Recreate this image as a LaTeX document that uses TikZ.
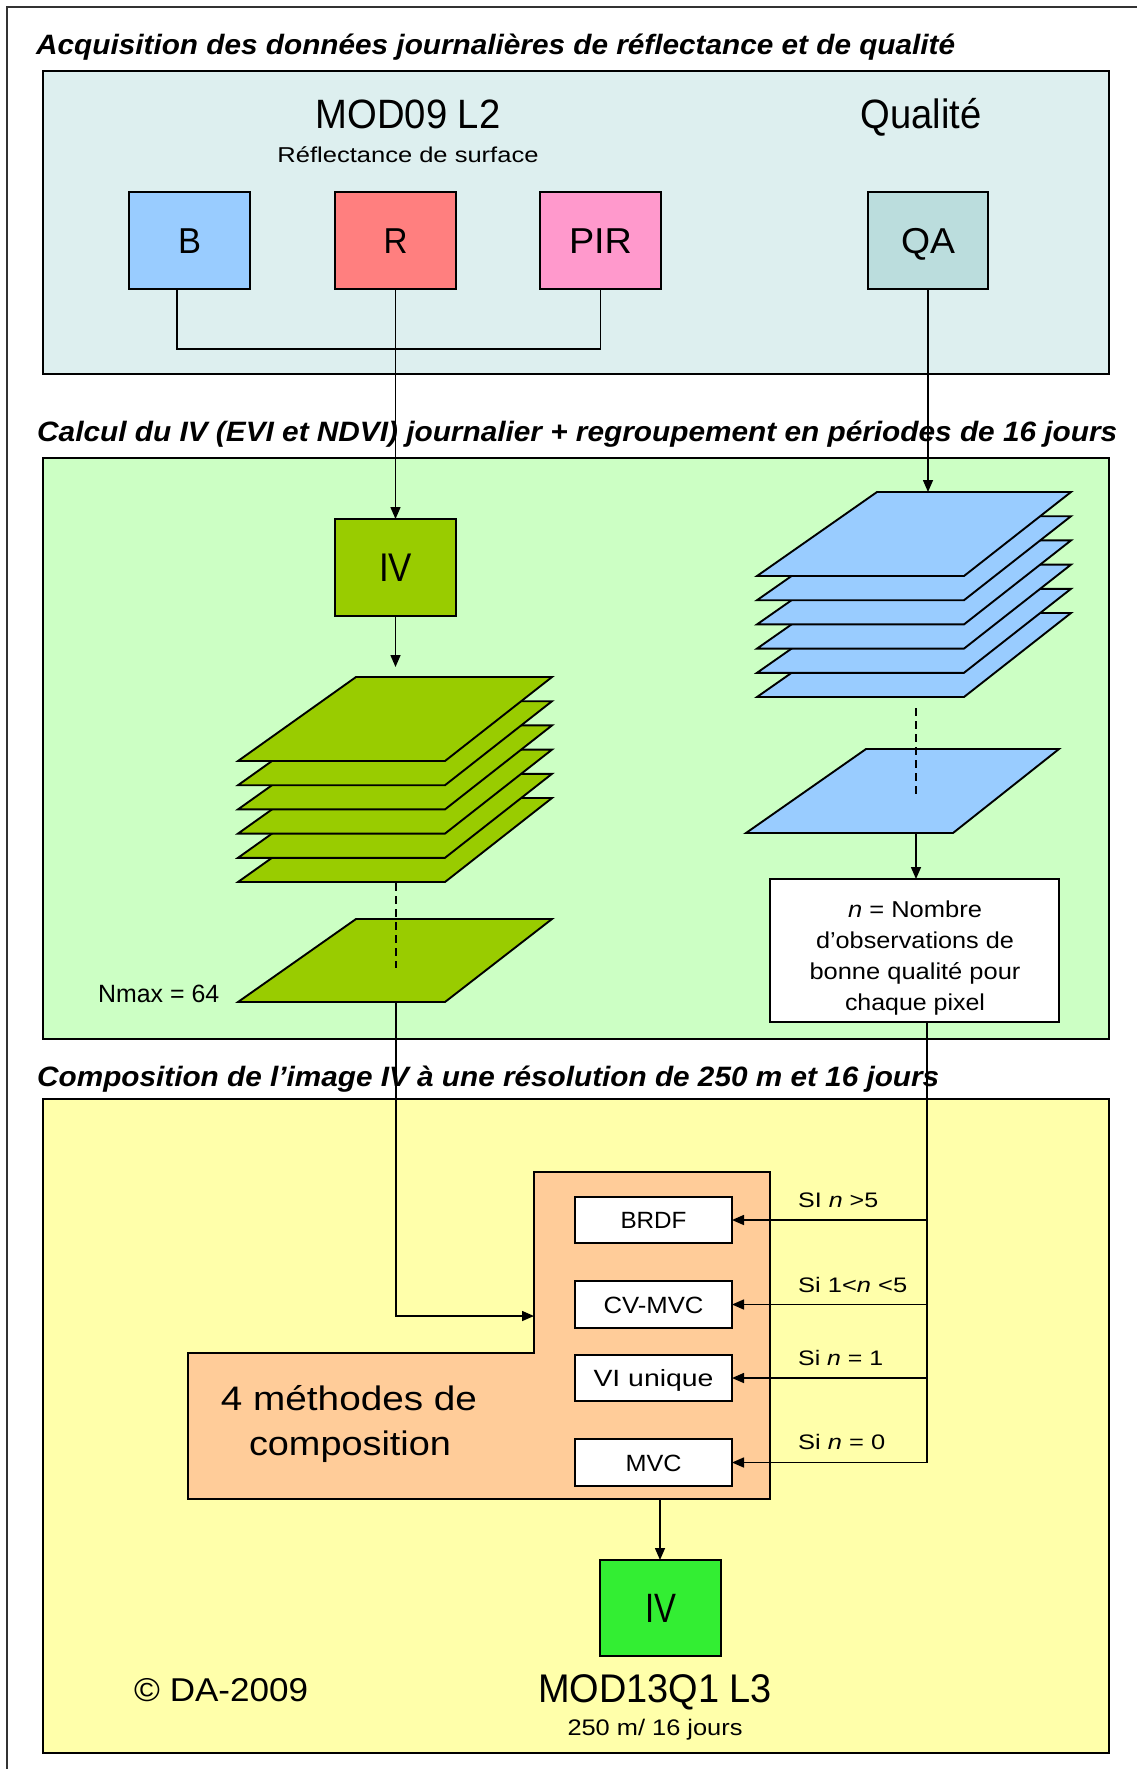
\documentclass[tikz,border=0pt]{standalone}
\usepackage{fontspec}
\setmainfont{Liberation Sans}
\usepackage{graphicx}
\usetikzlibrary{arrows.meta}
\definecolor{bgcyan}{HTML}{DDEFEF}
\definecolor{bggreen}{HTML}{CCFFC4}
\definecolor{bgyellow}{HTML}{FFFFAA}
\definecolor{cB}{HTML}{99CCFF}
\definecolor{cR}{HTML}{FF7F7F}
\definecolor{cPIR}{HTML}{FF99CC}
\definecolor{cQA}{HTML}{BBDDDD}
\definecolor{cOlive}{HTML}{99CC00}
\definecolor{cOrange}{HTML}{FFCC99}
\definecolor{cIV}{HTML}{33EE33}
\newcommand\fz[1]{\fontsize{#1}{#1}\selectfont}
\newcommand\fw[2]{\resizebox{#1pt}{\height}{#2}}
\begin{document}
\begin{tikzpicture}[x=1pt,y=-1pt,
  secbox/.style={draw=black, line width=2pt, inner sep=0pt, outer sep=0pt, anchor=north west},
  cbox/.style={draw=black, line width=1.8pt, inner sep=0pt, outer sep=0pt, anchor=north west},
  bandbox/.style={cbox, minimum width=121pt, minimum height=97pt, font=\fz{36}, text height=26pt, text depth=0pt},
  mbox/.style={cbox, fill=white, minimum width=157pt, minimum height=46pt, font=\fz{23.5}, text height=17pt, text depth=0pt},
  ttl/.style={inner sep=0pt, anchor=base west, font=\fz{28}\bfseries\itshape},
  lbl/.style={inner sep=0pt},
  conn/.style={draw=black, line width=1.5pt},
  arr/.style={conn, -{Triangle[length=12pt,width=10pt]}},
  dsh/.style={draw=black, line width=1.6pt, dash pattern=on 8pt off 5pt},
  layerg/.style={draw=black, line width=1.9pt, fill=cOlive},
  layerb/.style={draw=black, line width=1.9pt, fill=cB},
]
\useasboundingbox (0,0) rectangle (1136,1769);
\fill[white] (0,0) rectangle (1136,1769);
\draw[line width=1.5pt, black!80] (7,1775) -- (7,7) -- (1142,7);

% sections
\node[secbox, fill=bgcyan, minimum width=1066pt, minimum height=303pt] (sec1) at (43,71) {};
\node[secbox, fill=bggreen, minimum width=1066pt, minimum height=581pt] (sec2) at (43,458) {};
\node[secbox, fill=bgyellow, minimum width=1066pt, minimum height=654pt] (sec3) at (43,1099) {};

% titles
\node[ttl] (t1) at (36,55) {\fw{919}{Acquisition des données journalières de réflectance et de qualité}};
\node[ttl] (t2) at (37,441) {\fw{1080}{Calcul du IV (EVI et NDVI) journalier + regroupement en périodes de 16 jours}};
\node[ttl] (t3) at (37,1086) {\fw{902}{Composition de l’image IV à une résolution de 250 m et 16 jours}};

% section 1
\node[lbl, anchor=base, font=\fz{41}] (mod09) at (408,128) {\fw{185}{MOD09 L2}};
\node[lbl, anchor=base, font=\fz{21.5}] (refl) at (408,162) {\fw{261}{Réflectance de surface}};
\node[lbl, anchor=base, font=\fz{41}] (qual) at (921,128) {\fw{121}{Qualité}};
\node[bandbox, fill=cB] (B) at (129,192) {\fw{23}{B}};
\node[bandbox, fill=cR] (R) at (335,192) {\fw{24}{R}};
\node[bandbox, fill=cPIR] (PIR) at (540,192) {\fw{63}{PIR}};
\node[bandbox, fill=cQA, minimum width=120pt] (QA) at (868,192) {\fw{54}{QA}};

% section 2
\node[bandbox, fill=cOlive, font=\fz{40}, text height=28.5pt] (IVa) at (335,519) {\fw{33}{IV}};
\foreach \k in {5,4,3,2,1,0}{
  \pgfmathsetmacro\ty{677+24.2*\k}
  \draw[layerg] (356,\ty) -- (552,\ty) -- (445,\ty+84) -- (238,\ty+84) -- cycle;
}
\draw[layerg] (356,919) -- (552,919) -- (445,1002) -- (238,1002) -- cycle;
\foreach \k in {5,4,3,2,1,0}{
  \pgfmathsetmacro\ty{492+24.2*\k}
  \draw[layerb] (877,\ty) -- (1071,\ty) -- (964,\ty+84) -- (757,\ty+84) -- cycle;
}
\draw[layerb] (866,749) -- (1059,749) -- (953,833) -- (746,833) -- cycle;
\node[cbox, fill=white, minimum width=289pt, minimum height=143pt] (nbox) at (770,879) {};
\node[lbl, anchor=base, font=\fz{23}] (n1) at (915,917) {\fw{134}{\textit{n} = Nombre}};
\node[lbl, anchor=base, font=\fz{23}] (n2) at (915,948) {\fw{198}{d'observations de}};
\node[lbl, anchor=base, font=\fz{23}] (n3) at (915,979) {\fw{211}{bonne qualité pour}};
\node[lbl, anchor=base, font=\fz{23}] (n4) at (915,1010) {\fw{140}{chaque pixel}};
\node[lbl, anchor=base west, font=\fz{25}] (nmax) at (98,1002) {\fw{121}{Nmax = 64}};

% section 3
\draw[draw=black, line width=1.8pt, fill=cOrange] (534,1172) -- (770,1172) -- (770,1499) -- (188,1499) -- (188,1353) -- (534,1353) -- cycle;
\node[mbox] (BRDF) at (575,1197) {\fw{66}{BRDF}};
\node[mbox, minimum height=47pt] (CVMVC) at (575,1281) {\fw{100}{CV-MVC}};
\node[mbox] (VIu) at (575,1355) {\fw{120}{VI unique}};
\node[mbox, minimum height=47pt] (MVC) at (575,1439) {\fw{56}{MVC}};
\node[lbl, anchor=base west, font=\fz{21}] (s1) at (798,1207) {\fw{80}{SI \textit{n} >5}};
\node[lbl, anchor=base west, font=\fz{21}] (s2) at (798,1292) {\fw{109}{Si 1<\textit{n} <5}};
\node[lbl, anchor=base west, font=\fz{21}] (s3) at (798,1365) {\fw{85}{Si \textit{n} = 1}};
\node[lbl, anchor=base west, font=\fz{21}] (s4) at (798,1449) {\fw{87}{Si \textit{n} = 0}};
\node[lbl, anchor=base, font=\fz{34}] (m1) at (349,1410) {\fw{256}{4 méthodes de}};
\node[lbl, anchor=base, font=\fz{34}] (m2) at (350,1455) {\fw{202}{composition}};
\node[bandbox, fill=cIV, font=\fz{41}, text height=29pt, minimum height=96pt] (IVb) at (600,1560) {\fw{31}{IV}};
\node[lbl, anchor=base, font=\fz{40}] (mod13) at (655,1702) {\fw{234}{MOD13Q1 L3}};
\node[lbl, anchor=base, font=\fz{22.5}] (res) at (655,1735) {\fw{175}{250 m/ 16 jours}};
\node[lbl, anchor=base west, font=\fz{33}] (copy) at (134,1701) {\fw{174}{© DA-2009}};

% coordinates
\coordinate (gtop) at (396,667);
\coordinate (gdash1) at (396,883);
\coordinate (gdash2) at (396,968);
\coordinate (gbot) at (396,1002);
\coordinate (orgIn) at (534,1316);
\coordinate (btop) at (928,492);
\coordinate (bdash1) at (916,708);
\coordinate (bdash2) at (916,797);
\coordinate (bbot) at (916,833);
\coordinate (rail) at ([xshift=12.5pt]nbox.south);
\coordinate (orgOut) at (660,1499);

% connectors
\draw[conn] ([xshift=-12.5pt]B.south) -- ++(0,60) -| (PIR.south);
\draw[arr] (R.south) -- (IVa.north);
\draw[arr] (QA.south) -- (QA.south |- btop);
\draw[arr] (IVa.south) -- (IVa.south |- gtop);
\draw[dsh] (gdash1) -- (gdash2);
\draw[arr] (gbot) |- (orgIn);
\draw[dsh] (bdash1) -- (bdash2);
\draw[arr] (bbot) -- (bbot |- nbox.north);
\draw[arr] (rail) |- (MVC.east);
\draw[arr] (rail |- BRDF.east) -- (BRDF.east);
\draw[arr] (rail |- CVMVC.east) -- (CVMVC.east);
\draw[arr] (rail |- VIu.east) -- (VIu.east);
\draw[arr] (orgOut) -- (orgOut |- IVb.north);
\end{tikzpicture}
\end{document}
